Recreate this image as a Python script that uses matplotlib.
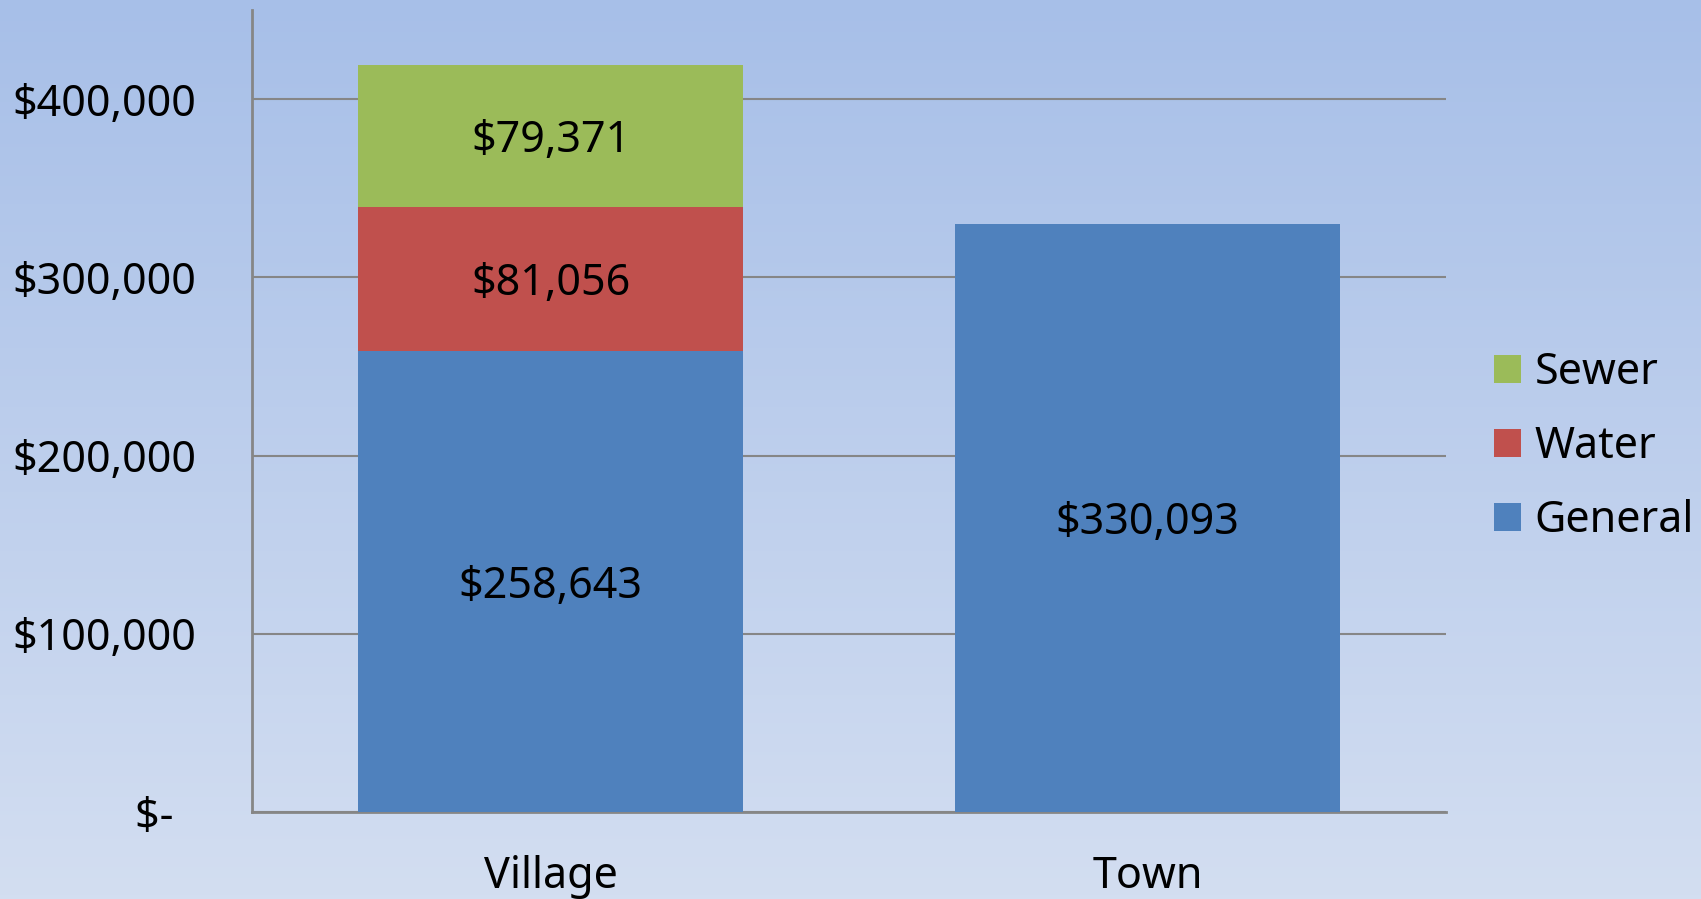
import numpy as np
import matplotlib
matplotlib.use("Agg")
import matplotlib.pyplot as plt
from matplotlib.colors import LinearSegmentedColormap

plt.rcParams["font.family"] = ["Noto Sans", "DejaVu Sans"]

categories = ["Village", "Town"]
general = [258643, 330093]
water = [81056, 0]
sewer = [79371, 0]
y_ticks = [0, 100000, 200000, 300000, 400000]
y_tick_labels = ["$-  ", "$100,000", "$200,000", "$300,000", "$400,000"]

c_general = "#4F81BD"
c_water = "#C0504D"
c_sewer = "#9BBB59"
grid_col = "#868686"
fs = 31

fig = plt.figure(figsize=(17.01, 8.99), dpi=100)

# background gradient over the whole figure
bg = fig.add_axes([0, 0, 1, 1], zorder=-10)
grad = LinearSegmentedColormap.from_list("bg", ["#A7BFE8", "#D3DEF1"])
bg.imshow(np.linspace(0, 1, 256).reshape(-1, 1), aspect="auto", cmap=grad,
          extent=[0, 1, 0, 1])
bg.axis("off")

ax = fig.add_axes([252 / 1701, 1 - 812 / 899, (1446 - 252) / 1701, (812 - 10) / 899])
ax.patch.set_alpha(0)

x = np.arange(len(categories))
w = 0.645
general = np.array(general)
water = np.array(water)
sewer = np.array(sewer)

b1 = ax.bar(x, general, w, color=c_general, label="General", zorder=3)
b2 = ax.bar(x[:1], water[:1], w, bottom=general[:1], color=c_water, label="Water", zorder=3)
b3 = ax.bar(x[:1], sewer[:1], w, bottom=(general + water)[:1], color=c_sewer, label="Sewer", zorder=3)

# data labels
for i in range(len(categories)):
    ax.text(x[i], general[i] / 2, f"${general[i]:,}", ha="center", va="center_baseline", fontsize=fs, zorder=4)
    if water[i] > 0:
        ax.text(x[i], general[i] + water[i] / 2, f"${water[i]:,}", ha="center", va="center_baseline", fontsize=fs, zorder=4)
    if sewer[i] > 0:
        ax.text(x[i], general[i] + water[i] + sewer[i] / 2, f"${sewer[i]:,}", ha="center", va="center_baseline", fontsize=fs, zorder=4)

ax.set_xlim(-0.5, 1.5)
ax.set_ylim(0, 450000)
ax.set_yticks(y_ticks)
ax.set_yticklabels(y_tick_labels)
ax.set_xticks(x)
ax.set_xticklabels(categories)
ax.tick_params(axis="both", length=0, labelsize=fs)
ax.tick_params(axis="y", pad=40)
ax.tick_params(axis="x", pad=31)

ax.yaxis.grid(True, color=grid_col, linewidth=1.5, zorder=1)
ax.set_axisbelow(True)
for s in ["top", "right"]:
    ax.spines[s].set_visible(False)
for s in ["left", "bottom"]:
    ax.spines[s].set_color(grid_col)
    ax.spines[s].set_linewidth(2)

handles = [b3, b2, b1]
fig.legend(handles, ["Sewer", "Water", "General"], loc="center left",
           bbox_to_anchor=(1477 / 1701, 1 - 447 / 899), frameon=False, fontsize=fs,
           handlelength=0.63, handleheight=0.63, handletextpad=0.3, labelspacing=0.7,
           borderaxespad=0)

fig.savefig("out.png", dpi=100)
